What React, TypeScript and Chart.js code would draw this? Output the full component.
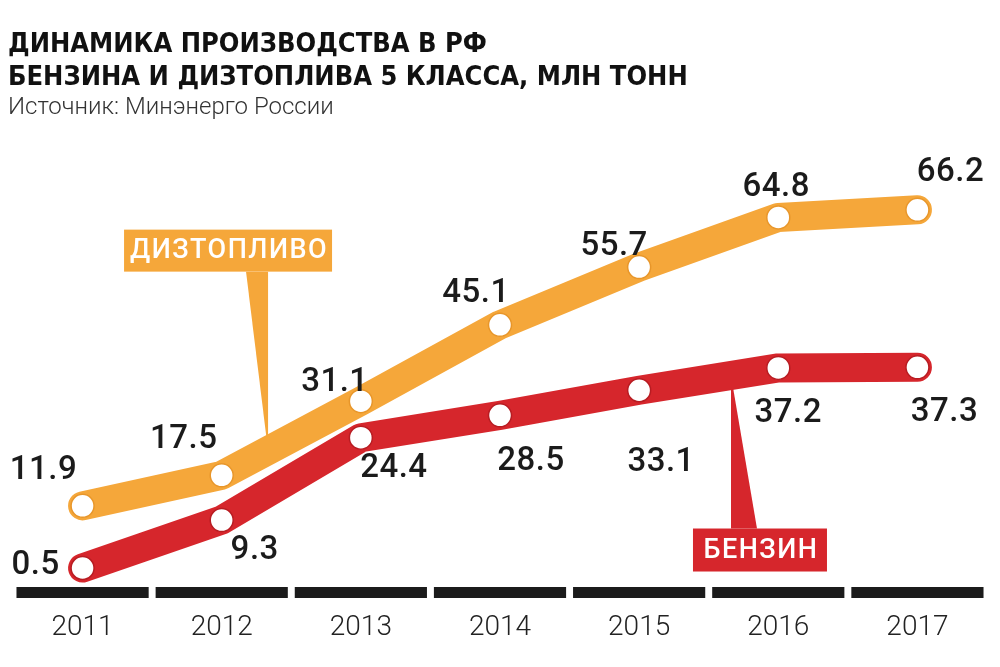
import React, { useEffect, useRef } from "react";
import { Chart, registerables } from "chart.js";

Chart.register(...registerables);

// ---- Data ----
const years: string[] = ["2011", "2012", "2013", "2014", "2015", "2016", "2017"];
const dieselValues: number[] = [11.9, 17.5, 31.1, 45.1, 55.7, 64.8, 66.2];
const gasolineValues: number[] = [0.5, 9.3, 24.4, 28.5, 33.1, 37.2, 37.3];
const dieselName = "ДИЗТОПЛИВО";
const gasolineName = "БЕНЗИН";
const titleLines: string[] = [
  "ДИНАМИКА ПРОИЗВОДСТВА В РФ",
  "БЕНЗИНА И ДИЗТОПЛИВА 5 КЛАССА, МЛН ТОНН",
];
const subtitleText = "Источник: Минэнерго России";

// ---- Presentation config ----
const ORANGE = "#F5A73A";
const RED = "#D6262C";
const DARK = "#1b1b1b";

// value label offsets (pixels from point) per dataset
const labelOffsets: [number, number][][] = [
  [[-39, -35], [-38, -36], [-26, -18], [-24, -31], [-25, -20], [-2, -30], [33, -37]],
  [[-47, -2], [33, 31], [33, 31], [31, 46], [22, 72], [10, 46], [27, 45]],
];

// callouts: dataset index, segment start index, fraction along segment, box relative to tip
const callouts = [
  { ds: 0, seg: 1, t: 0.333, text: dieselName, color: ORANGE, box: [-144, -221, 208, 42], base: [-22, 0] },
  { ds: 1, seg: 4, t: 0.66, text: gasolineName, color: RED, box: [-38, 153, 134, 43], base: [0, 26] },
];

const numFont = "500 33px Roboto, 'Open Sans', sans-serif";

const decorPlugin = {
  id: "decor",
  beforeDatasetsDraw(chart: any) {
    const ctx = chart.ctx;
    const x = chart.scales.x;
    const area = chart.chartArea;
    ctx.save();
    ctx.fillStyle = DARK;
    const n = years.length;
    const step = x.getPixelForValue(1) - x.getPixelForValue(0);
    const w = step * 0.95;
    for (let i = 0; i < n; i++) {
      const cx = x.getPixelForValue(i);
      ctx.fillRect(cx - w / 2, area.bottom - 11, w, 11);
    }
    ctx.restore();

    callouts.forEach((c) => {
      const meta = chart.getDatasetMeta(c.ds);
      const p0 = meta.data[c.seg];
      const p1 = meta.data[c.seg + 1];
      const tx = p0.x + (p1.x - p0.x) * c.t;
      const ty = p0.y + (p1.y - p0.y) * c.t;
      const [bx, by, bw, bh] = c.box;
      const left = tx + bx;
      const top = ty + by;
      ctx.save();
      ctx.fillStyle = c.color;
      ctx.fillRect(left, top, bw, bh);
      const baseY = by < 0 ? top + bh : top;
      ctx.beginPath();
      ctx.moveTo(tx + c.base[0], baseY);
      ctx.lineTo(tx + c.base[1], baseY);
      ctx.lineTo(tx, ty);
      ctx.closePath();
      ctx.fill();
      ctx.fillStyle = "#ffffff";
      ctx.font = "500 27px Roboto, 'Open Sans', sans-serif";
      (ctx as any).letterSpacing = "1.5px";
      ctx.textAlign = "center";
      ctx.textBaseline = "middle";
      ctx.fillText(c.text, left + bw / 2 + 1, top + bh / 2 + 1);
      ctx.restore();
    });
  },
  afterDatasetsDraw(chart: any) {
    const ctx = chart.ctx;
    ctx.save();
    ctx.fillStyle = DARK;
    ctx.font = numFont;
    (ctx as any).letterSpacing = "0.5px";
    ctx.textAlign = "center";
    ctx.textBaseline = "middle";
    chart.data.datasets.forEach((ds: any, di: number) => {
      const meta = chart.getDatasetMeta(di);
      meta.data.forEach((pt: any, i: number) => {
        const off = labelOffsets[di][i];
        ctx.fillText(Number(ds.data[i]).toFixed(1), pt.x + off[0], pt.y + off[1]);
      });
    });
    ctx.restore();
  },
  afterDraw(chart: any) {
    const ctx = chart.ctx;
    ctx.save();
    ctx.fillStyle = "#111";
    ctx.textAlign = "left";
    ctx.textBaseline = "alphabetic";
    ctx.font = "bold 27px 'DejaVu Sans Condensed', 'Liberation Sans', sans-serif";
    ctx.fillText(titleLines[0], 8, 52);
    ctx.fillText(titleLines[1], 8, 85);
    ctx.fillStyle = "#333";
    ctx.font = "300 24px Roboto, sans-serif";
    ctx.fillText(subtitleText, 8, 114);
    ctx.restore();
  },
};

export default function App() {
  const ref = useRef<HTMLCanvasElement | null>(null);
  useEffect(() => {
    if (!ref.current) return;
    const mk = (label: string, data: number[], color: string, ring: string) =>
      ({
        label,
        data,
        borderColor: color,
        borderWidth: 29,
        borderCapStyle: "round",
        borderJoinStyle: "round",
        pointRadius: 11.5,
        pointBackgroundColor: "#ffffff",
        pointBorderColor: ring,
        pointBorderWidth: 1.5,
        tension: 0,
        clip: false,
      } as any);
    const chart = new Chart(ref.current, {
      type: "line",
      data: {
        labels: years,
        datasets: [
          mk(dieselName, dieselValues, ORANGE, "#E8962A"),
          mk(gasolineName, gasolineValues, RED, "#B81C22"),
        ],
      },
      options: {
        animation: false,
        responsive: false,
        events: [],
        layout: { padding: { left: 8, right: 5, top: 140, bottom: 0 } },
        plugins: {
          legend: { display: false },
          tooltip: { enabled: false },
          title: { display: false },
        },
        scales: {
          x: {
            offset: true,
            grid: { display: false, drawTicks: false },
            border: { display: false },
            afterFit: (scale: any) => {
              scale.height = 69;
            },
            ticks: {
              padding: 13,
              color: "#222",
              font: { family: "Roboto, sans-serif", size: 28, weight: "300" as any, lineHeight: 1.2 },
              maxRotation: 0,
            },
          },
          y: {
            display: false,
            min: -5,
            max: 79,
          },
        },
      },
      plugins: [decorPlugin],
    });
    return () => chart.destroy();
  }, []);
  return (
    <div style={{ position: "absolute", left: 0, top: 0, width: 1000, height: 667, background: "#fff" }}>
      <canvas ref={ref} width={1000} height={667} style={{ display: "block" }} />
    </div>
  );
}
